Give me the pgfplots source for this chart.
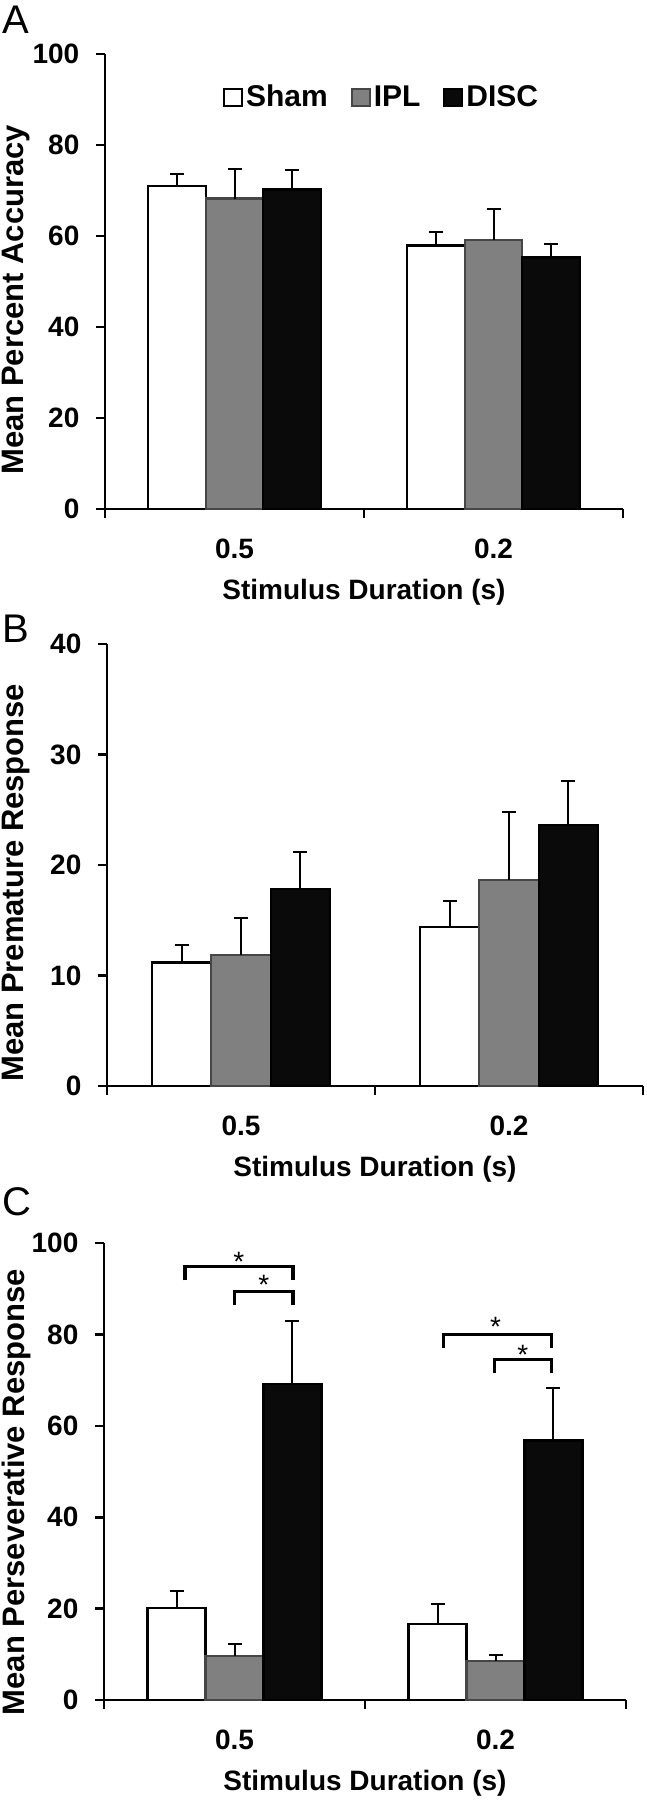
\documentclass[border=0pt]{standalone}
\usepackage{pgfplots}
\pgfplotsset{compat=1.18}
\usepackage{pgfplotstable}
\usepackage{fontspec}
\setmainfont{Liberation Sans}

\definecolor{barg}{RGB}{128,128,128}
\definecolor{bargedge}{RGB}{70,70,70}
\definecolor{bark}{RGB}{10,10,10}

\pgfplotstableread{
x sham shame ipl iple disc disce
0 71.0 2.7 68.2 6.6 70.2 4.2
1 57.9 3.0 59.1 6.8 55.3 3.0
}\dataA
\pgfplotstableread{
x sham shame ipl iple disc disce
0 11.17 1.63 11.85 3.34 17.85 3.35
1 14.41 2.30 18.62 6.19 23.64 3.96
}\dataB
\pgfplotstableread{
x sham shame ipl iple disc disce
0 20.1 3.8 9.6 2.7 69.1 13.9
1 16.7 4.3 8.5 1.3 56.8 11.4
}\dataC

\pgfplotsset{
  panel/.style={
    scale only axis, anchor=south west,
    axis x line*=bottom, axis y line*=left,
    axis line style={line width=1.3pt, -},
    xmin=-0.5, xmax=1.5, ymin=0, enlargelimits=false,
    xtick={-0.5,0.5,1.5}, xticklabels={,,},
    extra x ticks={0,1}, extra x tick labels={0.5,0.2},
    extra x tick style={tick style={draw=none}},
    tick align=outside, major tick length=4.5pt,
    tick style={line width=1.3pt, black},
    ybar, bar width=0.222,
    ticklabel style={font=\fontsize{14}{14}\selectfont\bfseries},
    /pgf/number format/assume math mode=true,
    xticklabel style={yshift=-7pt},
    yticklabel style={xshift=-4.8pt},
    xlabel style={font=\fontsize{14}{14}\selectfont\bfseries},
    ylabel style={font=\fontsize{15.5}{15.5}\selectfont\bfseries},
    xlabel={Stimulus Duration (s)},
    xlabel style={at={(axis description cs:0.5,0)}, anchor=center, yshift=-41.5pt},
    clip=false,
  },
  eb/.style={error bars/.cd, y dir=plus, y explicit,
    error bar style={line width=1pt, black},
    error mark options={line width=1pt, mark size=3.5pt, black, rotate=90}},
  sham/.style={fill=white, draw=black, line width=1.2pt, bar shift=-0.222, eb},
  ipl/.style={fill=barg, draw=bargedge, line width=1.2pt, bar shift=0, eb},
  disc/.style={fill=bark, draw=black, line width=1.2pt, bar shift=0.222, eb},
}

\begin{document}
\begin{tikzpicture}
\useasboundingbox (0,0) rectangle (323.5pt,-900pt);

\node[anchor=west, font=\fontsize{20}{20}\selectfont, inner sep=0pt] at (1pt,-10pt) {A};
\node[anchor=west, font=\fontsize{20}{20}\selectfont, inner sep=0pt] at (1pt,-314.5pt) {B};
\node[anchor=west, font=\fontsize{20}{20}\selectfont, inner sep=0pt] at (1pt,-601pt) {C};

% Panel A
\begin{axis}[panel, at={(52.5pt,-254.5pt)}, width=259pt, height=227.5pt,
  ymax=100, ytick={0,20,40,60,80,100},
  ylabel={Mean Percent Accuracy},
  ylabel style={at={(axis description cs:-0.1718,0.46)}, anchor=center, rotate=0},
  legend columns=3,
  legend style={draw=none, fill=none, at={(axis description cs:0.535,0.905)}, anchor=center,
    font=\fontsize{15}{15}\selectfont\bfseries,
    nodes={inner xsep=1.5pt},
    /tikz/every even column/.append style={column sep=10pt}},
  legend image code/.code={\draw[#1, line width=1pt] (0pt,-4.25pt) rectangle (9pt,4.25pt);},
]
\addplot[sham] table[x=x, y=sham, y error=shame] {\dataA};
\addplot[ipl] table[x=x, y=ipl, y error=iple] {\dataA};
\addplot[disc] table[x=x, y=disc, y error=disce] {\dataA};
\legend{Sham,IPL,DISC}
\end{axis}

% Panel B
\begin{axis}[panel, at={(53.5pt,-543pt)}, width=268pt, height=221pt,
  ymax=40, ytick={0,10,20,30,40},
  ylabel={Mean Premature Response},
  ylabel style={at={(axis description cs:-0.170,0.46)}, anchor=center, rotate=0},
]
\addplot[sham] table[x=x, y=sham, y error=shame] {\dataB};
\addplot[ipl] table[x=x, y=ipl, y error=iple] {\dataB};
\addplot[disc] table[x=x, y=disc, y error=disce] {\dataB};
\end{axis}

% Panel C
\begin{axis}[panel, at={(52pt,-850pt)}, width=261pt, height=228.5pt,
  ymax=100, ytick={0,20,40,60,80,100},
  ylabel={Mean Perseverative Response},
  ylabel style={at={(axis description cs:-0.1686,0.455)}, anchor=center, rotate=0},
]
\addplot[sham] table[x=x, y=sham, y error=shame] {\dataC};
\addplot[ipl] table[x=x, y=ipl, y error=iple] {\dataC};
\addplot[disc] table[x=x, y=disc, y error=disce] {\dataC};
\addplot[sharp plot, black, line width=1.6pt, mark=none, forget plot] coordinates {(-0.19,91.8) (-0.19,94.8) (0.224,94.8) (0.224,91.8)};
\addplot[sharp plot, black, line width=1.6pt, mark=none, forget plot] coordinates {(0.0,86.5) (0.0,89.4) (0.224,89.4) (0.224,86.5)};
\addplot[sharp plot, black, line width=1.6pt, mark=none, forget plot] coordinates {(0.802,77.1) (0.802,79.9) (1.215,79.9) (1.215,77.1)};
\addplot[sharp plot, black, line width=1.6pt, mark=none, forget plot] coordinates {(0.996,71.6) (0.996,74.5) (1.215,74.5) (1.215,71.6)};
\node[anchor=base, yshift=-8pt, font=\fontsize{14}{14}\selectfont] at (axis cs:0.017,97.3) {*};
\node[anchor=base, yshift=-8pt, font=\fontsize{14}{14}\selectfont] at (axis cs:0.112,92.2) {*};
\node[anchor=base, yshift=-8pt, font=\fontsize{14}{14}\selectfont] at (axis cs:1.0,83.0) {*};
\node[anchor=base, yshift=-8pt, font=\fontsize{14}{14}\selectfont] at (axis cs:1.105,76.9) {*};
\end{axis}
\end{tikzpicture}
\end{document}
